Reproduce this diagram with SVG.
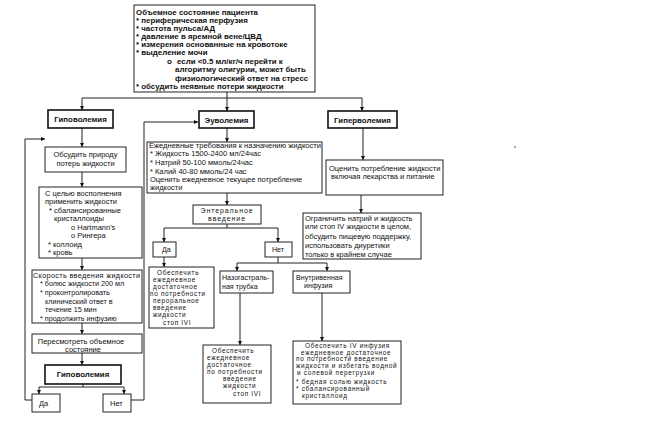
<svg xmlns="http://www.w3.org/2000/svg" width="666" height="431" viewBox="0 0 666 431">
<defs>
<style>
.bx{fill:#fff;stroke:#222;stroke-width:1}
.bk{fill:#fff;stroke:#111;stroke-width:1.6}
.ln{fill:none;stroke:#222;stroke-width:1}
.ar{fill:none;stroke:#222;stroke-width:1;marker-end:url(#ah)}
text{font-family:"Liberation Sans",Arial,sans-serif;fill:#111}
.t{font-size:7.5px}
.r{font-size:7.2px}
.s{font-size:6.4px;letter-spacing:0.7px}
.n{font-size:7.1px}
.e{font-size:7px;letter-spacing:0.9px}
.h{font-size:7.9px;font-weight:bold}
.m{text-anchor:middle}
</style>
<marker id="ah" markerUnits="userSpaceOnUse" markerWidth="5" markerHeight="5" refX="4" refY="2" orient="auto">
<path d="M0,0 L4,2 L0,4 z" fill="#111"/>
</marker>
</defs>
<rect width="666" height="431" fill="#fff"/>

<g id="connectors">
<path class="ln" d="M227,92 V98 M82,98 H362"/>
<path class="ar" d="M82,98 V110"/>
<path class="ar" d="M227,98 V111"/>
<path class="ar" d="M362,98 V111"/>
<path class="ar" d="M82,128 V147"/>
<path class="ar" d="M82,172 V187"/>
<path class="ar" d="M82,258 V270"/>
<path class="ar" d="M82,323 V334"/>
<path class="ar" d="M82,353 V365"/>
<path class="ln" d="M83,384 V387 M39,387 H124"/>
<path class="ar" d="M39,387 V394"/>
<path class="ar" d="M124,387 V394"/>
<path class="ar" d="M32,400 H25 V139 H45"/>
<path class="ar" d="M131,400 H144 V122 H198"/>
<path class="ar" d="M227,128 V142"/>
<path class="ar" d="M227,193 V205"/>
<path class="ln" d="M227,224 V228 M164,228 H278"/>
<path class="ar" d="M164,228 V242"/>
<path class="ar" d="M278,228 V242"/>
<path class="ar" d="M164,257 V267"/>
<path class="ln" d="M278,257 V263 M237,263 H327"/>
<path class="ar" d="M237,263 V271"/>
<path class="ar" d="M327,263 V271"/>
<path class="ar" d="M240,293 V345"/>
<path class="ar" d="M322,293 V341"/>
<path class="ar" d="M363,128 V160"/>
<path class="ar" d="M361,195 V213"/>
</g>

<g id="assessment">
<rect class="bx" x="134" y="5" width="181" height="87"/>
<text class="h" x="136" y="14.5">Объемное состояние пациента</text>
<text class="h" x="136" y="22.5">* периферическая перфузия</text>
<text class="h" x="136" y="30.5">* частота пульса/АД</text>
<text class="h" x="136" y="38.5">* давление в яремной вене/ЦВД</text>
<text class="h" x="136" y="46.5">* измерения основанные на кровотоке</text>
<text class="h" x="136" y="54.5">* выделение мочи</text>
<text class="h" x="167" y="64">o</text>
<text class="h" x="177" y="64">если &lt;0.5 мл/кг/ч перейти к</text>
<text class="h" x="175" y="72">алгоритму олигурии, может быть</text>
<text class="h" x="175" y="80.5">физиологический ответ на стресс</text>
<text class="h" x="136" y="89">* обсудить неявные потери жидкости</text>
</g>

<g id="hypo">
<rect class="bk" x="48" y="110" width="65" height="18"/>
<text class="h m" x="80.5" y="121.5">Гиповолемия</text>
</g>
<g id="euvo">
<rect class="bk" x="199" y="111" width="55" height="17"/>
<text class="h m" x="226.5" y="122.5">Эуволемия</text>
</g>
<g id="hyper">
<rect class="bk" x="328" y="111" width="69" height="17"/>
<text class="h m" x="362.5" y="122.5">Гиперволемия</text>
</g>

<g id="discuss">
<rect class="bx" x="45" y="147" width="81" height="25"/>
<text class="t m" x="85.5" y="156.5">Обсудить природу</text>
<text class="t m" x="85.5" y="165.5">потерь жидкости</text>
</g>

<g id="replace">
<rect class="bx" x="39" y="187" width="103" height="71"/>
<text class="t" x="45" y="195.5">С целью восполнения</text>
<text class="t" x="45" y="203.5">применить жидкости</text>
<text class="t" x="49" y="212.5">* сбалансированные</text>
<text class="t" x="54" y="220.5">кристаллоиды</text>
<text class="t" x="71" y="229.5">o Hartmann's</text>
<text class="t" x="71" y="237.5">o Рингера</text>
<text class="t" x="48" y="246.5">* коллоид</text>
<text class="t" x="48" y="254.5">* кровь</text>
</g>

<g id="rate">
<rect class="bx" x="32" y="270" width="110" height="53"/>
<text class="r" x="33" y="277.5" textLength="107" lengthAdjust="spacing">Скорость введения жидкости</text>
<text class="r" x="40" y="286">* болюс жидкости 200 мл</text>
<text class="r" x="40" y="295">* проконтролировать</text>
<text class="r" x="45" y="303.5">клинический ответ в</text>
<text class="r" x="45" y="312">течение 15 мин</text>
<text class="r" x="40" y="320.5">* продолжить инфузию</text>
</g>

<g id="reassess">
<rect class="bx" x="32" y="334" width="110" height="19"/>
<text class="t m" x="81" y="343.5">Пересмотреть объемное</text>
<text class="t m" x="83" y="351.5">состояние</text>
</g>

<g id="hypo2">
<rect class="bk" x="45" y="365" width="76" height="19"/>
<text class="h m" x="83" y="377">Гиповолемия</text>
</g>
<g id="hypo-yes">
<rect class="bx" x="32" y="394" width="28" height="18"/>
<text class="t" x="39" y="405.5">Да</text>
</g>
<g id="hypo-no">
<rect class="bx" x="103" y="394" width="28" height="18"/>
<text class="t" x="110" y="405.5">Нет</text>
</g>

<g id="daily">
<rect class="bx" x="147" y="142" width="175" height="51"/>
<text class="t" x="149" y="147.5" textLength="172" lengthAdjust="spacingAndGlyphs">Ежедневные требования к назначению жидкости</text>
<text class="t" x="150" y="155.5">*  Жидкость 1500-2400 мл/24час</text>
<text class="t" x="150" y="164.5">*  Натрий 50-100 ммоль/24час</text>
<text class="t" x="150" y="173.5">*  Калий 40-80 ммоль/24 час</text>
<text class="t" x="150" y="181.5">Оценить ежедневное текущее потребление</text>
<text class="t" x="150" y="189.5">жидкости</text>
</g>

<g id="enteral">
<rect class="bx" x="193" y="205" width="68" height="19"/>
<text class="e m" x="227" y="212.5">Энтеральное</text>
<text class="e m" x="227" y="220.5">введение</text>
</g>
<g id="ent-yes">
<rect class="bx" x="153" y="242" width="23" height="15"/>
<text class="n" x="162" y="251.5">Да</text>
</g>
<g id="ent-no">
<rect class="bx" x="265" y="242" width="27" height="15"/>
<text class="n" x="272" y="251.5">Нет</text>
</g>

<g id="oral">
<rect class="bx" x="149" y="267" width="65" height="61"/>
<text class="s" x="157" y="275">Обеспечить</text>
<text class="s" x="153" y="282">ежедневное</text>
<text class="s" x="153" y="289">достаточное</text>
<text class="s" x="150" y="296">по потребности</text>
<text class="s" x="153" y="303">пероральное</text>
<text class="s" x="153" y="310">введение</text>
<text class="s" x="153" y="317">жидкости</text>
<text class="s" x="163" y="325">стоп IVI</text>
</g>

<g id="ng-tube">
<rect class="bx" x="220" y="271" width="53" height="22"/>
<text class="n" x="222" y="279.5">Назогастраль-</text>
<text class="n" x="222" y="288.5">ная трубка</text>
</g>

<g id="ng-provide">
<rect class="bx" x="203" y="345" width="68" height="58"/>
<text class="s" x="212" y="353">Обеспечить</text>
<text class="s" x="207" y="360">ежедневное</text>
<text class="s" x="207" y="367">достаточное</text>
<text class="s" x="207" y="374">по потребности</text>
<text class="s" x="223" y="381">введение</text>
<text class="s" x="223" y="388">жидкости</text>
<text class="s" x="233" y="396">стоп IVI</text>
</g>

<g id="iv">
<rect class="bx" x="293" y="271" width="57" height="22"/>
<text class="n" x="296" y="279.5">Внутривенная</text>
<text class="n" x="304" y="287.5">инфузия</text>
</g>

<g id="iv-provide">
<rect class="bx" x="293" y="341" width="108" height="63"/>
<text class="s" x="305" y="348">Обеспечить IV инфузия</text>
<text class="s" x="301" y="354.7">ежедневное достаточное</text>
<text class="s" x="296" y="361.4">по потребности введение</text>
<text class="s" x="296" y="368.1">жидкости и избегать водной</text>
<text class="s" x="297" y="374.8">и солевой перегрузки</text>
<text class="s" x="296" y="383.5">* бедная солью жидкость</text>
<text class="s" x="296" y="390.5">* сбалансированный</text>
<text class="s" x="302" y="397.5">кристаллоид</text>
</g>

<g id="assess-intake">
<rect class="bx" x="326" y="160" width="117" height="35"/>
<text class="t" x="329" y="170.5">Оценить потребление жидкости</text>
<text class="t" x="331" y="178.5">включая  лекарства и питание</text>
</g>

<g id="restrict">
<rect class="bx" x="303" y="213" width="118" height="46"/>
<text class="t" x="305" y="220.8">Ограничить натрий и жидкость</text>
<text class="t" x="305" y="229.2">или стоп IV жидкости  в целом,</text>
<text class="t" x="305" y="238.5">обсудить пищевую поддержку,</text>
<text class="t" x="305" y="247.5">использовать диуретики</text>
<text class="t" x="305" y="256.5">только в крайнем случае</text>
</g>

<rect x="514" y="146" width="2" height="2" fill="#aaa"/>
</svg>
